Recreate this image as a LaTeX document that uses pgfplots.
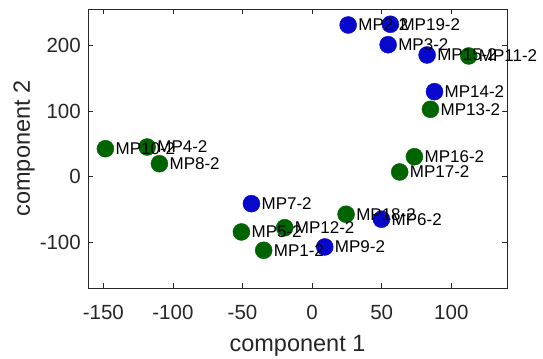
\documentclass[border=0pt]{standalone}
\usepackage{pgfplots}
\usepackage{pgfplotstable}
\pgfplotsset{compat=1.18}
\usepackage{fontspec}
\setmainfont{Liberation Sans}
\definecolor{myblue}{RGB}{8,8,205}
\definecolor{mygreen}{RGB}{0,100,0}
\definecolor{axgray}{RGB}{38,38,38}
\pgfplotstableread{
x y label
25.9 231.6 MP2-2
56.2 232.7 MP19-2
54.6 201.5 MP3-2
82.6 185.8 MP15-2
87.9 129.8 MP14-2
-43.6 -41.2 MP7-2
49.8 -65.0 MP6-2
9.1 -107.3 MP9-2
}\blue
\pgfplotstableread{
x y label
112.5 184.3 MP11-2
85.0 102.9 MP13-2
-148.5 42.7 MP10-2
-118.5 45.3 MP4-2
73.5 30.5 MP16-2
-109.7 19.8 MP8-2
62.9 7.2 MP17-2
24.4 -57.4 MP18-2
-19.7 -77.9 MP12-2
-50.8 -84.4 MP5-2
-34.8 -112.4 MP1-2
}\green
\begin{document}
\begin{tikzpicture}
\begin{axis}[
  scale only axis,
  width=419bp, height=279bp,
  xmin=-161, xmax=140, ymin=-170, ymax=256,
  xtick={-150,-100,-50,0,50,100},
  ytick={-100,0,100,200},
  tick align=inside,
  major tick length=5bp,
  axis line style={axgray, line width=0.8bp},
  tick style={axgray, line width=0.8bp},
  clip=false,
  /pgf/number format/assume math mode=true,
  tick label style={font=\fontsize{20.5bp}{24bp}\selectfont, text=axgray},
  xticklabel style={anchor=base, inner sep=0pt, yshift=-31bp},
  yticklabel style={anchor=east, inner sep=0pt, xshift=-7bp},
  xlabel={component 1},
  ylabel={component 2},
  label style={font=\fontsize{23.5bp}{27bp}\selectfont, text=axgray},
  xlabel style={at={(axis description cs:0.5,0)}, anchor=base, inner sep=0pt, yshift=-63bp},
  ylabel style={at={(axis description cs:0,0.5)}, anchor=base, inner sep=0pt, yshift=58bp},
  labstyle/.style={draw=none, mark=none, nodes near coords, point meta=explicit symbolic,
    nodes near coords style={anchor=west, inner sep=0pt, xshift=10bp, font=\fontsize{17bp}{20bp}\selectfont, text=black}},
]
\addplot[only marks, mark=*, mark size=8.5bp, color=myblue] table {\blue};
\addplot[only marks, mark=*, mark size=8.5bp, color=mygreen] table {\green};
\addplot[labstyle] table[meta=label] {\blue};
\addplot[labstyle] table[meta=label] {\green};
\end{axis}
\pgfresetboundingbox
\path[use as bounding box] ([xshift=-88bp,yshift=-71bp]current axis.south west) rectangle ([xshift=36bp,yshift=9bp]current axis.north east);
\end{tikzpicture}
\end{document}
